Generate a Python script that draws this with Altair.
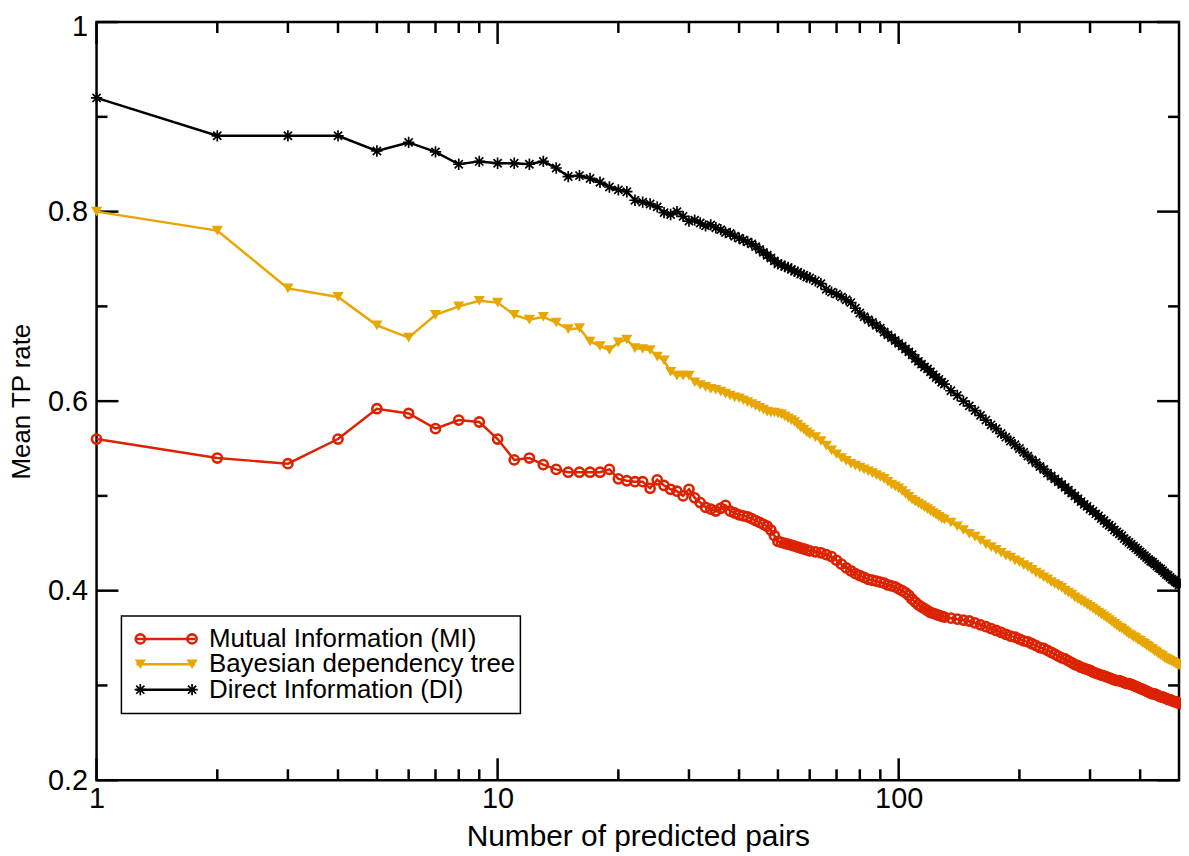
import altair as alt
import pandas as pd

# x positions (number of predicted pairs) at which values were read
N = list(range(1, 61)) + list(range(62, 131, 2)) + list(range(135, 501, 5))

mi = [.560,.540,.534,.560,.592,.587,.571,.580,.578,.560, .538,.540,.533,.528,.525,.525,.525,.525,.528,.518,
      .516,.515,.515,.508,.517,.511,.507,.505,.500,.507, .498,.493,.488,.486,.484,.487,.490,.484,.482,.480,
      .479,.478,.476,.474,.472,.470,.468,.464,.458,.452, .451,.450,.449,.448,.447,.446,.445,.444,.443,.442,
      .441,.440,.438,.436,.432,.428,.424,.421,.418,.416, .414,.412,.411,.410,.409,.408,.406,.405,.404,.402,
      .400,.398,.395,.391,.388,.385,.383,.381,.379,.377, .376,.375,.374,.373,.372,
      .371,.370,.369,.368,.366,.364,.362,.360,.358,.356, .354,.352,.351,.349,.347,.346,.344,.342,.340,.339,
      .337,.335,.333,.331,.329,.328,.326,.324,.322,.321, .319,.318,.317,.316,.314,.313,.312,.311,.310,.309,
      .308,.307,.306,.305,.305,.304,.303,.302,.302,.301, .300,.299,.298,.297,.296,.295,.294,.293,.292,.291,
      .291,.290,.289,.288,.288,.287,.286,.285,.285,.284, .283,.283,.282,.281]

bdt = [.800,.780,.719,.710,.680,.667,.691,.700,.706,.704, .691,.686,.689,.683,.676,.677,.663,.658,.654,.662,
       .665,.656,.655,.654,.647,.643,.631,.627,.627,.627, .620,.617,.615,.613,.612,.610,.608,.606,.604,.603,
       .601,.599,.597,.595,.593,.591,.589,.588,.588,.587, .586,.584,.582,.580,.578,.575,.572,.570,.567,.565,
       .562,.558,.553,.548,.544,.540,.537,.534,.532,.530, .528,.526,.524,.522,.520,.518,.515,.512,.510,.508,
       .505,.502,.499,.496,.494,.492,.490,.488,.486,.484, .482,.480,.478,.476,.475,
       .472,.468,.464,.460,.457,.453,.449,.446,.443,.440, .437,.435,.432,.430,.427,.425,.422,.419,.417,.414,
       .412,.409,.407,.405,.403,.400,.398,.396,.393,.391, .389,.387,.385,.383,.381,.379,.377,.375,.373,.371,
       .369,.367,.365,.363,.361,.360,.358,.356,.354,.353, .351,.350,.348,.347,.345,.344,.342,.341,.339,.338,
       .336,.335,.333,.332,.331,.329,.328,.327,.326,.325, .324,.323,.322,.321]

di = [.920,.880,.880,.880,.864,.873,.863,.850,.853,.851, .851,.850,.853,.846,.837,.838,.835,.831,.826,.823,
      .821,.812,.810,.808,.805,.799,.797,.800,.795,.790, .791,.788,.785,.786,.783,.781,.778,.777,.774,.772,
      .770,.768,.766,.763,.760,.757,.754,.751,.748,.745, .744,.742,.741,.739,.737,.736,.734,.733,.731,.730,
      .727,.724,.718,.715,.713,.710,.707,.704,.698,.693, .689,.686,.683,.680,.677,.673,.670,.667,.664,.661,
      .658,.655,.652,.649,.645,.642,.639,.636,.634,.631, .628,.625,.623,.620,.618,
      .611,.606,.600,.595,.590,.585,.580,.575,.571,.566, .562,.558,.554,.550,.546,.542,.538,.535,.531,.528,
      .524,.521,.518,.515,.512,.509,.506,.503,.500,.497, .494,.491,.489,.486,.484,.481,.479,.476,.474,.471,
      .469,.467,.464,.462,.460,.458,.455,.453,.451,.449, .447,.445,.443,.441,.439,.437,.435,.433,.431,.430,
      .428,.426,.424,.423,.421,.419,.417,.416,.414,.412, .411,.409,.408,.406]

series_names = ["Mutual Information (MI)", "Bayesian dependency tree", "Direct Information (DI)"]
x_major = [1, 10, 100]
x_minor = [2, 3, 4, 5, 6, 7, 8, 9, 20, 30, 40, 50, 60, 70, 80, 90, 200, 300, 400]
y_major = [0.2, 0.4, 0.6, 0.8, 1.0]
y_minor = [0.3, 0.5, 0.7, 0.9]

assert len(N) == len(mi) == len(bdt) == len(di)

RED = "#dc2200"
ORANGE = "#e8a600"
BLACK = "#000000"
ASTERISK = "M-1,0H1M0,-1V1M-0.72,-0.72L0.72,0.72M-0.72,0.72L0.72,-0.72"
FONT = "Liberation Sans"

W, H = 1088, 762

rows = []
for name, vals in zip(series_names, [mi, bdt, di]):
    for n, v in zip(N, vals):
        rows.append({"series": name, "n": n, "v": v})
df = pd.DataFrame(rows)

xscale = alt.Scale(type="log", domain=[1, 500], nice=False)
yscale = alt.Scale(domain=[0.2, 1.0], nice=False, zero=False)

X = alt.X("n:Q", scale=xscale, axis=alt.Axis(
    values=x_major, format="d", ticks=False, domain=False, grid=False,
    labelFont=FONT, labelFontSize=29, labelColor="black", labelPadding=4,
    labelFlush=False, labelOverlap=False,
    title="Number of predicted pairs", titleFont=FONT, titleFontSize=30,
    titleFontWeight="normal", titleColor="black",
    titleX=W / 2, titleY=57, titleBaseline="middle", titleAlign="center"))
Y = alt.Y("v:Q", scale=yscale, axis=alt.Axis(
    values=y_major, format="~g", ticks=False, domain=False, grid=False,
    labelFont=FONT, labelFontSize=29, labelColor="black", labelPadding=9,
    labelOffset=alt.ExprRef("datum.value == 1 ? 4 : 0"),
    labelFlush=False, labelOverlap=False,
    title="Mean TP rate", titleFont=FONT, titleFontSize=26,
    titleFontWeight="normal", titleColor="black", titleAngle=270,
    titleX=-75, titleY=H / 2, titleBaseline="middle", titleAlign="center"))

layers = []

# inward ticks on all four sides
def xticks(vals, length):
    d = pd.DataFrame({"n": vals})
    bot = alt.Chart(d).mark_rule(color="black", strokeWidth=2.5).encode(
        x=X, y=alt.value(H), y2=alt.value(H - length))
    top = alt.Chart(d).mark_rule(color="black", strokeWidth=2.5).encode(
        x=X, y=alt.value(0), y2=alt.value(length))
    return [bot, top]

def yticks(vals, length):
    d = pd.DataFrame({"v": vals})
    left = alt.Chart(d).mark_rule(color="black", strokeWidth=2.5).encode(
        y=Y, x=alt.value(0), x2=alt.value(length))
    right = alt.Chart(d).mark_rule(color="black", strokeWidth=2.5).encode(
        y=Y, x=alt.value(W), x2=alt.value(W - length))
    return [left, right]

layers += xticks(x_major, 22) + xticks(x_minor, 11) + yticks(y_major, 22) + yticks(y_minor, 11)

styles = {
    series_names[0]: dict(color=RED, shape="circle", filled=False, size=85, strokeWidth=2.6),
    series_names[1]: dict(color=ORANGE, shape="triangle-down", filled=True, size=125, strokeWidth=0),
    series_names[2]: dict(color=BLACK, shape=ASTERISK, filled=False, size=130, strokeWidth=1.7),
}

for name in series_names:
    st = styles[name]
    base = alt.Chart(df).transform_filter(alt.datum.series == name)
    layers.append(base.mark_line(color=st["color"], strokeWidth=2.5).encode(x=X, y=Y))
    layers.append(base.mark_point(shape=st["shape"], filled=st["filled"], color=st["color"],
                                  size=st["size"], strokeWidth=st["strokeWidth"], opacity=1)
                  .encode(x=X, y=Y))

# legend box
one = pd.DataFrame({"a": [0]})
layers.append(alt.Chart(one).mark_rect(fill="white", stroke="black", strokeWidth=1.5).encode(
    x=alt.value(25), x2=alt.value(426), y=alt.value(597), y2=alt.value(695)))
leg_y = [620, 645.5, 671]
for name, ry in zip(series_names, leg_y):
    st = styles[name]
    d = pd.DataFrame({"label": [name]})
    layers.append(alt.Chart(d).mark_rule(color=st["color"], strokeWidth=2.5).encode(
        x=alt.value(40), x2=alt.value(99), y=alt.value(ry)))
    for px in (44, 96):
        layers.append(alt.Chart(d).mark_point(shape=st["shape"], filled=st["filled"], color=st["color"],
                                              size=st["size"], strokeWidth=st["strokeWidth"], opacity=1)
                      .encode(x=alt.value(px), y=alt.value(ry)))
    layers.append(alt.Chart(d).mark_text(align="left", baseline="middle", font=FONT, fontSize=26,
                                         color="black").encode(
        x=alt.value(113), y=alt.value(ry), text="label:N"))

chart = alt.layer(*layers).properties(
    width=W, height=H,
    autosize=alt.AutoSizeParams(type="none"),
    padding={"left": 89, "top": 12, "right": 2, "bottom": 70},
    background="white",
).configure_view(stroke="black", strokeWidth=2.5)

chart.save("out.html", embed_options={"renderer": "svg", "actions": False})
